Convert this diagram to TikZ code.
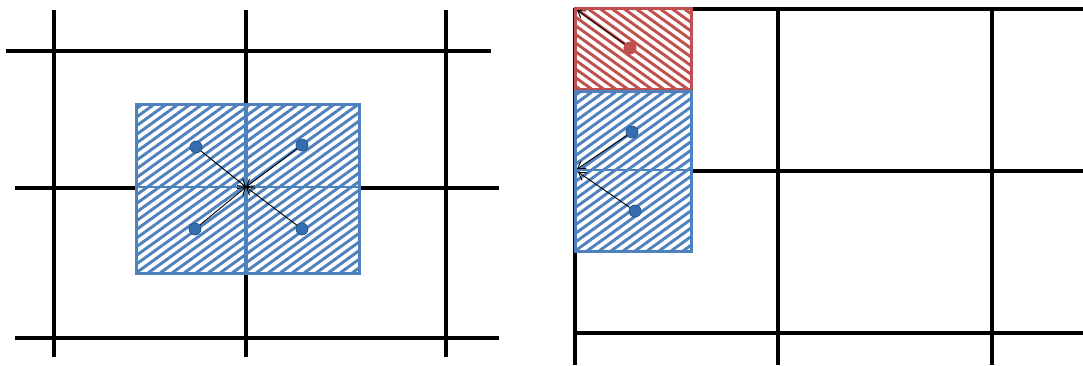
\documentclass[tikz,border=0pt]{standalone}
\usetikzlibrary{arrows.meta}
\definecolor{hblue}{RGB}{79,129,189}
\definecolor{hred}{RGB}{192,80,77}
\definecolor{dotblue}{RGB}{52,110,178}
\newcommand\myhatchup[5]{% x0 y0 x1 y1 colour : lines rising to the right
  \begin{scope}
    \clip (#1,#2) rectangle (#3,#4);
    \fill[white] (#1,#2) rectangle (#3,#4);
    \foreach \i in {-264,-252,...,240}
      \draw[#5,hatchline] (#1+\i,#4) -- ++(300,-216);
  \end{scope}}
\newcommand\myhatchdown[5]{% x0 y0 x1 y1 colour : lines falling to the right
  \begin{scope}
    \clip (#1,#2) rectangle (#3,#4);
    \fill[white] (#1,#2) rectangle (#3,#4);
    \foreach \i in {-264,-252,...,240}
      \draw[#5,hatchline] (#1+\i,#2) -- ++(300,216);
  \end{scope}}
\begin{document}
\begin{tikzpicture}[x=1pt,y=-1pt,
  gridline/.style={black,line width=4.2pt},
  hatchline/.style={line width=2.9pt},
  bdot/.style={circle,fill=dotblue,draw=dotblue!75!black,line width=0.7pt,minimum size=12pt,inner sep=0pt},
  rdot/.style={circle,fill=hred,minimum size=13pt,inner sep=0pt},
  vec/.style={black,line width=0.9pt,-{Straight Barb[length=7pt,width=9pt]}}]
\useasboundingbox (0,0) rectangle (1083,365);
% ---------- left panel grid ----------
\draw[gridline] (54,10) -- (54,357);
\draw[gridline] (246,10) -- (246,357);
\draw[gridline] (446,10) -- (446,357);
\draw[gridline] (6,51) -- (491,51);
\draw[gridline] (15,188) -- (499,188);
\draw[gridline] (15,338) -- (499,338);
% ---------- left panel boxes ----------
\myhatchup{136}{104}{359}{273}{hblue}
\draw[hblue,line width=3pt] (136,104) rectangle (359,273);
\draw[hblue,line width=4pt] (246,104) -- (246,273);
\draw[hblue,line width=2pt] (136,187) -- (359,187);
\coordinate (c) at (246,187);
\node[bdot] (d1) at (196,147) {};
\node[bdot] (d2) at (302,145) {};
\node[bdot] (d3) at (195,229) {};
\node[bdot] (d4) at (302,229) {};
\draw[vec] (d1) -- (c);
\draw[vec] (d2) -- (c);
\draw[vec] (d3) -- (c);
\draw[vec] (d4) -- (c);
% ---------- right panel grid ----------
\draw[gridline] (575,8) -- (575,365);
\draw[gridline] (778,8) -- (778,365);
\draw[gridline] (992,8) -- (992,365);
\draw[gridline] (575,9) -- (1083,9);
\draw[gridline] (575,171) -- (1083,171);
\draw[gridline] (575,333) -- (1083,333);
% ---------- right panel boxes ----------
\myhatchdown{575}{8}{691}{89}{hred}
\draw[hred,line width=3pt] (575,8) rectangle (691,89);
\myhatchup{575}{91}{691}{251}{hblue}
\draw[hblue,line width=3pt] (575,91) rectangle (691,251);
\draw[hblue,line width=2pt] (575,170) -- (691,170);
\coordinate (rc) at (577,10);
\coordinate (bc1) at (577,169);
\coordinate (bc2) at (578,172);
\node[rdot] (r1) at (630,48) {};
\node[bdot] (b1) at (632,132) {};
\node[bdot] (b2) at (635,211) {};
\draw[vec] (r1) -- (rc);
\draw[vec] (b1) -- (bc1);
\draw[vec] (b2) -- (bc2);
\end{tikzpicture}
\end{document}
